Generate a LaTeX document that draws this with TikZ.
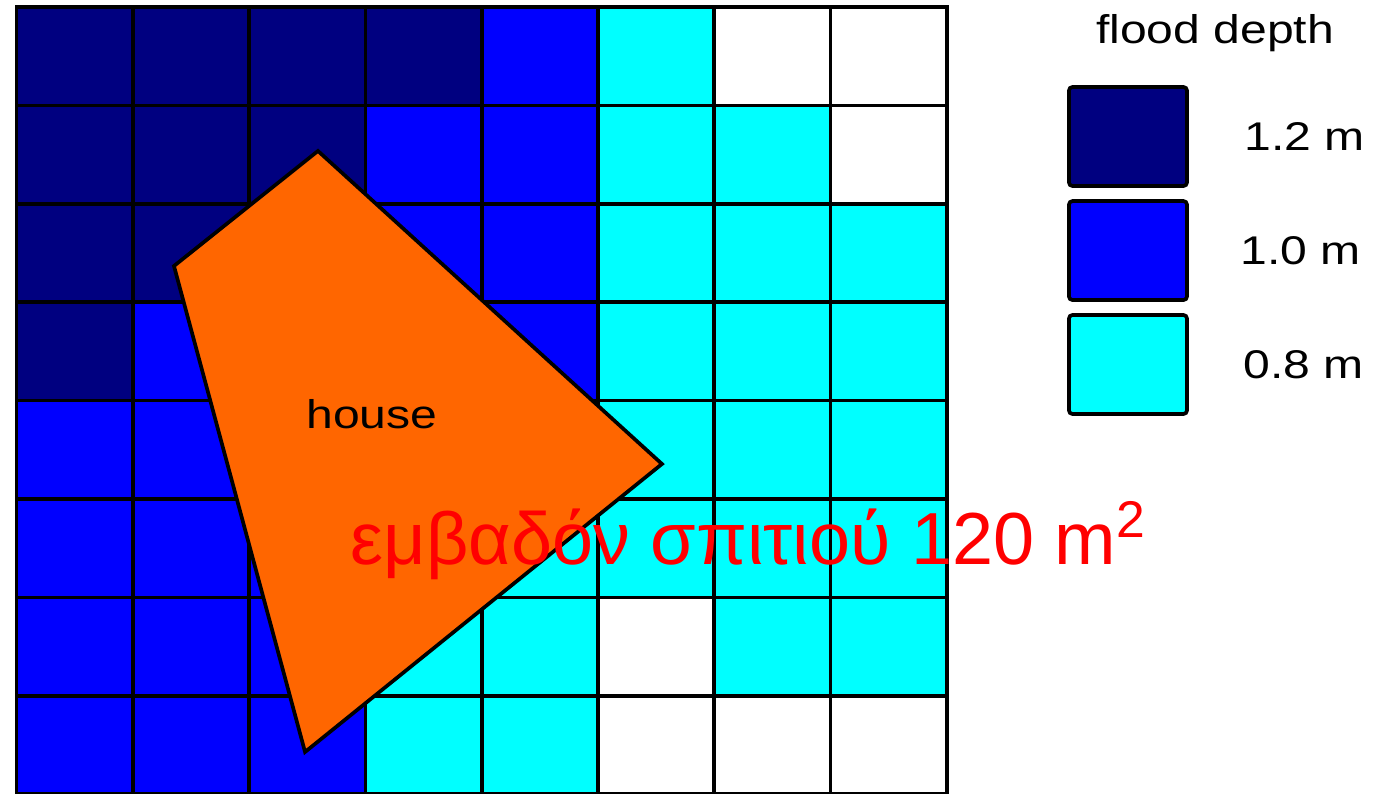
\documentclass[tikz,border=0pt]{standalone}
\usepackage{fontspec}
\setmainfont{Liberation Sans}[FakeStretch=1.2]
\newfontfamily\areafont{Liberation Sans}
\usetikzlibrary{positioning}
\definecolor{depth0}{RGB}{255,255,255}
\definecolor{depth1}{RGB}{0,255,255}
\definecolor{depth2}{RGB}{0,0,255}
\definecolor{depth3}{RGB}{0,0,128}
\definecolor{roof}{RGB}{255,102,0}
\tikzset{
  cell/.style={draw=black, line width=1.05pt},
  house/.style={draw=black, line width=1.05pt, fill=roof, line join=miter},
  key/.style={draw=black, line width=1.05pt, rounded corners=1pt, minimum width=1.18cm, minimum height=0.99cm, inner sep=0pt},
  label/.style={font=\fontsize{11.4}{13}\selectfont, inner sep=0pt},
  area/.style={font=\areafont\fontsize{21}{25}\selectfont, text=red, inner sep=0pt}
}

\begin{document}
\begin{tikzpicture}[x=1.163cm, y=-0.984cm]
  \useasboundingbox (-0.165cm,0.07cm) rectangle (13.575cm,-7.86cm);
  \clip (-0.165cm,0.07cm) rectangle (13.575cm,-7.86cm);
  % depth grid
  \foreach \row [count=\j from 0] in {{3,3,3,3,2,1,0,0},{3,3,3,2,2,1,1,0},{3,3,3,2,2,1,1,1},{3,2,2,2,2,1,1,1},{2,2,2,2,2,1,1,1},{2,2,2,2,1,1,1,1},{2,2,2,1,1,0,1,1},{2,2,2,1,1,0,0,0}}{
    \foreach \c [count=\i from 0] in \row {\draw[cell, fill=depth\c] (\i,\j) rectangle ++(1,1);}
  }
  % house footprint
  \coordinate (ridge) at (2.592,1.463);
  \coordinate (west) at (1.354,2.632);
  \coordinate (south) at (2.481,7.571);
  \coordinate (east) at (5.550,4.644);
  \draw[house] (ridge) -- (west) -- (south) -- (east) -- cycle;
  \node[label] (houselbl) at (3.057,4.136) {house};
  \node[area, anchor=base] (arealbl) at (6.298,5.661) {εμβαδόν σπιτιού 120 m\textsuperscript{2}};
  % legend
  \node[label] (legtitle) at (10.305,0.27) {flood depth};
  \node[key, fill=depth3] (key12) at (9.557,1.316) {};
  \node[key, fill=depth2] (key10) at (9.557,2.475) {};
  \node[key, fill=depth1] (key08) at (9.557,3.633) {};
  \node[label, right=0.55cm of key12] (lbl12) {1.2 m};
  \node[label, right=0.51cm of key10] (lbl10) {1.0 m};
  \node[label, right=0.54cm of key08] (lbl08) {0.8 m};
\end{tikzpicture}
\end{document}
